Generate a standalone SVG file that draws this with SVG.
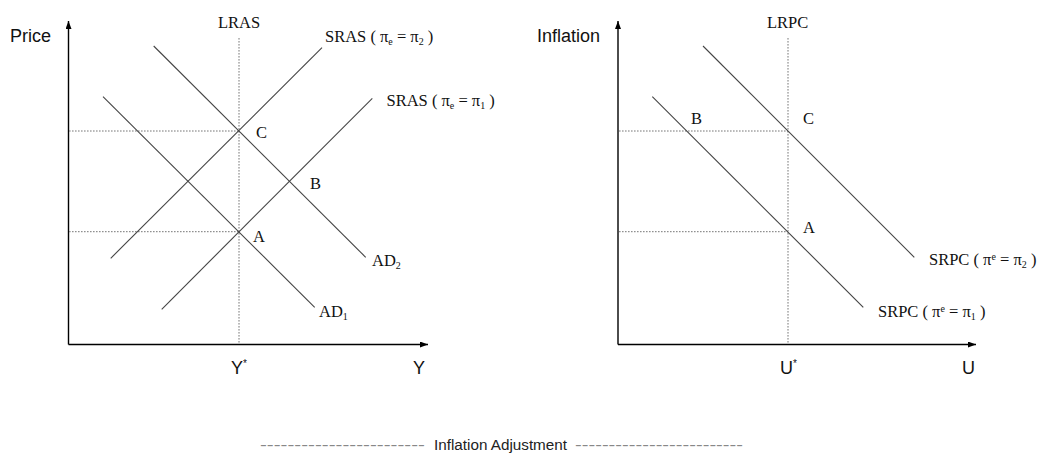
<svg xmlns="http://www.w3.org/2000/svg" width="1044" height="454" viewBox="0 0 1044 454">
<style>
.bg{fill:#fff}
.axis{stroke:#000;stroke-width:1.4;fill:none}
.curve{stroke:#444;stroke-width:1.1;fill:none}
.dot{stroke:#777;stroke-width:1;stroke-dasharray:1.6 1.4;fill:none}
.sans{font-family:"Liberation Sans",Arial,sans-serif;font-size:18px;fill:#111}
.serif{font-family:"Liberation Serif","Times New Roman",serif;font-size:16.5px;fill:#111}
.sm{font-size:10px}
.foot{font-family:"Liberation Sans",Arial,sans-serif;font-size:15.5px;fill:#222}
.dash{font-family:"Liberation Sans",Arial,sans-serif;font-size:15.5px;fill:#888}
</style>
<defs>
<marker id="arr" viewBox="0 0 8 6" markerWidth="8" markerHeight="6" refX="8" refY="3" orient="auto" markerUnits="userSpaceOnUse">
<path d="M0,0 L8,3 L0,6 z" fill="#000"/>
</marker>
</defs>
<rect class="bg" x="0" y="0" width="1044" height="454"/>

<g id="left-graph">
  <g id="left-axes">
    <line class="axis" x1="68.5" y1="344.5" x2="68.5" y2="21" marker-end="url(#arr)"/>
    <line class="axis" x1="68.5" y1="344.5" x2="428" y2="344.5" marker-end="url(#arr)"/>
    <text class="sans" x="10" y="42">Price</text>
    <text class="sans" x="413" y="374">Y</text>
    <text class="sans" x="231" y="374">Y<tspan class="sm" dy="-7">*</tspan></text>
  </g>
  <g id="lras">
    <line class="dot" x1="239" y1="38" x2="239" y2="344"/>
    <text class="serif" x="218" y="28">LRAS</text>
  </g>
  <g id="left-guides">
    <line class="dot" x1="69" y1="131" x2="239" y2="131"/>
    <line class="dot" x1="69" y1="231.7" x2="239" y2="231.7"/>
  </g>
  <g id="left-curves">
    <line id="sras2" class="curve" x1="322" y1="47.7" x2="110.7" y2="258.3"/>
    <line id="sras1" class="curve" x1="372.3" y1="98.3" x2="161.7" y2="309.3"/>
    <line id="ad2" class="curve" x1="153.7" y1="46" x2="365.7" y2="257.3"/>
    <line id="ad1" class="curve" x1="103" y1="96.7" x2="314.7" y2="307.3"/>
  </g>
  <g id="left-labels">
    <text class="serif" x="325" y="42">SRAS ( π<tspan class="sm" dy="3">e</tspan><tspan dy="-3"> = π</tspan><tspan class="sm" dy="3">2</tspan><tspan dy="-3"> )</tspan></text>
    <text class="serif" x="386.5" y="105.5">SRAS ( π<tspan class="sm" dy="3">e</tspan><tspan dy="-3"> = π</tspan><tspan class="sm" dy="3">1</tspan><tspan dy="-3"> )</tspan></text>
    <text class="serif" x="372" y="266">AD<tspan class="sm" dy="3">2</tspan></text>
    <text class="serif" x="319" y="317">AD<tspan class="sm" dy="3">1</tspan></text>
    <text class="serif" x="256" y="138">C</text>
    <text class="serif" x="310" y="189">B</text>
    <text class="serif" x="253" y="242">A</text>
  </g>
</g>

<g id="right-graph">
  <g id="right-axes">
    <line class="axis" x1="618" y1="344.5" x2="618" y2="21" marker-end="url(#arr)"/>
    <line class="axis" x1="618" y1="344.5" x2="976" y2="344.5" marker-end="url(#arr)"/>
    <text class="sans" x="537" y="42">Inflation</text>
    <text class="sans" x="962" y="374">U</text>
    <text class="sans" x="780" y="374">U<tspan class="sm" dy="-7">*</tspan></text>
  </g>
  <g id="lrpc">
    <line class="dot" x1="788" y1="38" x2="788" y2="344"/>
    <text class="serif" x="767" y="28">LRPC</text>
  </g>
  <g id="right-guides">
    <line class="dot" x1="619" y1="131" x2="788" y2="131"/>
    <line class="dot" x1="619" y1="231.7" x2="788" y2="231.7"/>
  </g>
  <g id="right-curves">
    <line id="srpc2" class="curve" x1="703" y1="46" x2="914.3" y2="257.3"/>
    <line id="srpc1" class="curve" x1="652.3" y1="96.7" x2="863.3" y2="307.3"/>
  </g>
  <g id="right-labels">
    <text class="serif" x="929" y="265">SRPC ( π<tspan class="sm" dy="-5">e</tspan><tspan dy="5"> = π</tspan><tspan class="sm" dy="3">2</tspan><tspan dy="-3"> )</tspan></text>
    <text class="serif" x="878" y="317">SRPC ( π<tspan class="sm" dy="-5">e</tspan><tspan dy="5"> = π</tspan><tspan class="sm" dy="3">1</tspan><tspan dy="-3"> )</tspan></text>
    <text class="serif" x="691" y="124">B</text>
    <text class="serif" x="803" y="124">C</text>
    <text class="serif" x="803" y="233">A</text>
  </g>
</g>

<g id="footer">
  <text class="dash" x="260" y="449.5" textLength="165" lengthAdjust="spacingAndGlyphs">------------------------</text>
  <text class="foot" x="434" y="449.5" textLength="133" lengthAdjust="spacingAndGlyphs">Inflation Adjustment</text>
  <text class="dash" x="575" y="449.5" textLength="168" lengthAdjust="spacingAndGlyphs">-------------------------</text>
</g>
</svg>
